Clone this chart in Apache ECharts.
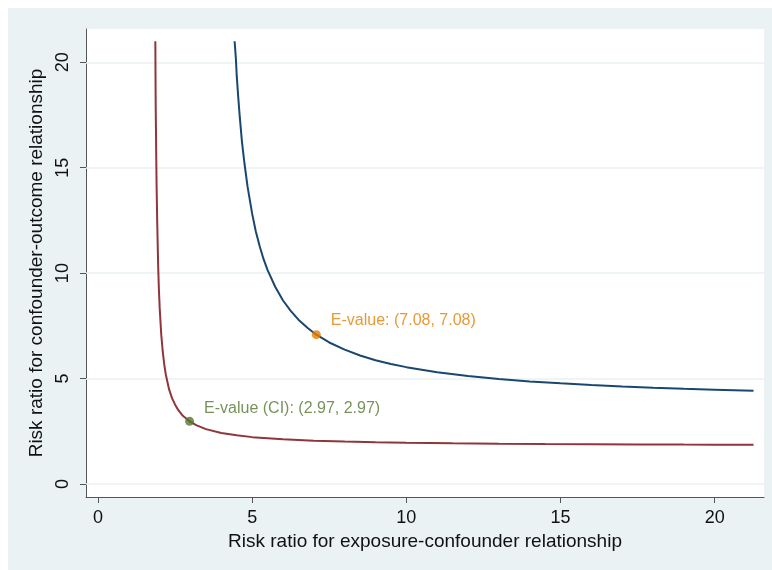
<!DOCTYPE html>
<html><head><meta charset="utf-8">
<script src="https://cdn.jsdelivr.net/npm/echarts@6/dist/echarts.min.js"></script>
<style>
html,body{margin:0;padding:0;background:#fff;}
#bg{position:absolute;left:8px;top:8px;width:764px;height:562px;background:#eaf2f3;}
#main{position:absolute;left:0;top:0;width:772px;height:570px;}
</style></head>
<body><div id="bg"></div><div id="main"></div>
<script>
// E-value curve (point estimate): [x, y]
const evalueCurve = [
  [4.43,21.0],[4.47,20.2],[4.5,19.33],[4.55,18.3],[4.6,17.36],[4.67,16.2],[4.75,15.2],[4.85,14.1],[5.0,12.81],
  [5.12,11.96],[5.25,11.24],[5.37,10.66],[5.5,10.14],[5.75,9.34],[6.0,8.70],[6.25,8.21],[6.5,7.79],[6.8,7.40],
  [7.08,7.08],[7.5,6.71],[8.0,6.37],[8.5,6.09],[9.0,5.87],[9.5,5.69],[10.0,5.54],[11.0,5.30],[12.0,5.12],
  [13.0,4.98],[14.0,4.86],[15.0,4.77],[16.0,4.69],[17.0,4.62],[18.0,4.56],[19.0,4.51],[20.0,4.47],[21.26,4.42]
];
// E-value curve (confidence interval limit): [x, y]
const ciCurve = [
  [1.859,21.0],[1.865,19.3],[1.87,18.0],[1.88,16.72],[1.89,15.3],[1.9,14.1],[1.92,12.4],[1.95,10.35],[1.975,9.2],
  [2.0,8.35],[2.05,7.1],[2.1,6.26],[2.15,5.65],[2.2,5.18],[2.3,4.51],[2.4,4.07],[2.5,3.76],[2.6,3.51],[2.75,3.23],
  [2.97,2.97],[3.2,2.78],[3.5,2.60],[4.0,2.42],[4.5,2.31],[5.0,2.22],[6.0,2.12],[7.0,2.05],[8.0,2.01],[9.0,1.98],
  [10.0,1.957],[11.5,1.93],[13.0,1.911],[14.5,1.897],[16.0,1.885],[17.5,1.876],[19.0,1.868],[20.0,1.863],[21.26,1.858]
];
const pointEstimate = [[7.08, 7.08]];
const pointCI = [[2.97, 2.97]];
const pointLabel = "E-value: (7.08, 7.08)";
const ciLabel = "E-value (CI): (2.97, 2.97)";
const tickValues = [0, 5, 10, 15, 20];
const xTitle = "Risk ratio for exposure-confounder relationship";
const yTitle = "Risk ratio for confounder-outcome relationship";

const FONT = "Liberation Sans, Arial, sans-serif";
const chart = echarts.init(document.getElementById('main'), null, {renderer:'canvas'});
chart.setOption({
  backgroundColor: 'transparent',
  animation: false,
  grid: {left: 86, right: 8, top: 29, bottom: 73, show: true, backgroundColor: '#ffffff', borderWidth: 0},
  xAxis: {
    type: 'value', min: -0.39, max: 21.6,
    name: xTitle, nameLocation: 'middle', nameGap: 33,
    nameTextStyle: {fontFamily: FONT, fontSize: 19, color: '#111'},
    axisLine: {show: true, onZero: false, lineStyle: {color: '#555', width: 1}},
    axisTick: {show: true, length: 6, lineStyle: {color: '#555'}, customValues: tickValues},
    axisLabel: {fontFamily: FONT, fontSize: 18, color: '#111', margin: 12, customValues: tickValues},
    splitLine: {show: false}
  },
  yAxis: {
    type: 'value', min: -0.62, max: 21.58,
    name: yTitle, nameLocation: 'middle', nameGap: 33, nameRotate: 90,
    nameTextStyle: {fontFamily: FONT, fontSize: 19, color: '#111'},
    axisLine: {show: true, onZero: false, lineStyle: {color: '#555', width: 1}},
    axisTick: {show: true, length: 6, lineStyle: {color: '#555'}, customValues: tickValues},
    axisLabel: {fontFamily: FONT, fontSize: 18, color: '#111', margin: 14, rotate: 90, customValues: tickValues},
    splitLine: {show: false}
  },
  series: [
    {
      type: 'line', data: evalueCurve, showSymbol: false, symbol: 'none', clip: false,
      lineStyle: {color: '#1a476f', width: 2}, z: 3,
      markLine: {
        silent: true, symbol: 'none', label: {show: false},
        lineStyle: {color: '#eaf2f3', width: 1.5, type: 'solid'},
        data: tickValues.map(v => ({yAxis: v})), z: 1
      }
    },
    {
      type: 'line', data: ciCurve, showSymbol: false, symbol: 'none', clip: false,
      lineStyle: {color: '#90353b', width: 2}, z: 3
    },
    {
      type: 'scatter', data: pointEstimate, symbolSize: 9, z: 5,
      itemStyle: {color: '#e37e00'},
      label: {show: true, position: 'right', offset: [5, -14], formatter: pointLabel,
        fontFamily: FONT, fontSize: 16, color: '#e37e00'}
    },
    {
      type: 'scatter', data: pointCI, symbolSize: 9, z: 5,
      itemStyle: {color: '#55752f'},
      label: {show: true, position: 'right', offset: [5, -13], formatter: ciLabel,
        fontFamily: FONT, fontSize: 16, color: '#55752f'}
    }
  ]
});
</script></body></html>
